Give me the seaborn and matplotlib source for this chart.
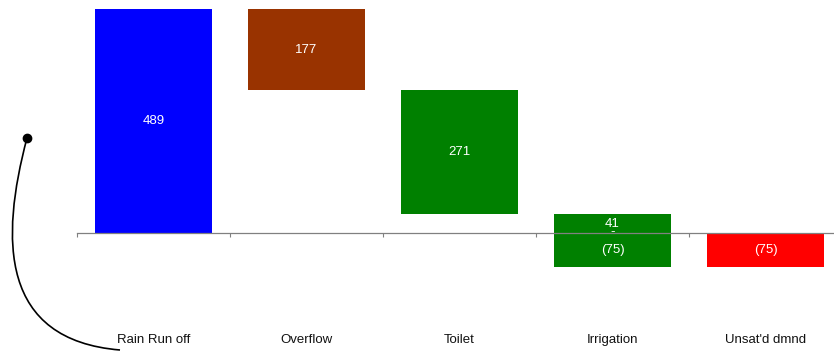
import matplotlib
matplotlib.use("Agg")
import matplotlib.pyplot as plt
import seaborn as sns
import numpy as np
from matplotlib.path import Path
from matplotlib.patches import PathPatch
from matplotlib.lines import Line2D

# ---- data ----
categories = ["Rain Run off", "Overflow", "Toilet", "Irrigation", "Unsat'd dmnd"]
bar_low = [0, 312, 41, -75, -75]
bar_high = [489, 489, 312, 41, 0]
bar_colors = ["#0000FF", "#993300", "#008000", "#008000", "#FF0000"]
value_labels = ["489", "177", "271", None, "(75)"]
irrigation_labels = ["41", "-", "(75)"]
irrigation_label_y = [20.5, 1, -37.5]

sns.set_theme(style="white")
plt.rcParams["font.family"] = ["Liberation Sans", "DejaVu Sans"]

W, H = 834, 351
fig = plt.figure(figsize=(W / 100, H / 100), dpi=100)
fig.patch.set_facecolor("white")

# axes: left at 77 px, each category 153 px wide; zero line at y=233 px, 489 at y=9 px
px_per_unit = (233 - 9) / 489.0
ymin = -(H - 233) / px_per_unit
ax_left = 77 / W
ax_width = (153 * 5) / W
ax = fig.add_axes([ax_left, 0, ax_width, (H - 9) / H])

heights = [h - l for l, h in zip(bar_low, bar_high)]
sns.barplot(x=categories, y=heights, bottom=bar_low, ax=ax, width=0.77,
            color="#0000FF", saturation=1, linewidth=0)
for p, c in zip(ax.patches, bar_colors):
    p.set_facecolor(c)
    p.set_edgecolor("none")

ax.set_xlim(-0.5, 4.5)
ax.set_ylim(ymin, 489)

# value labels
fs = 9.5
for i, lab in enumerate(value_labels):
    if lab is None:
        continue
    ax.text(i, (bar_low[i] + bar_high[i]) / 2, lab, ha="center", va="center",
            color="white", fontsize=fs)
for lab, y in zip(irrigation_labels, irrigation_label_y):
    ax.text(3, y, lab, ha="center", va="center", color="white", fontsize=fs,
            zorder=5)

# axis styling
for s in ["top", "right", "left"]:
    ax.spines[s].set_visible(False)
ax.spines["bottom"].set_position(("data", 0))
ax.spines["bottom"].set_color("#808080")
ax.spines["bottom"].set_linewidth(0.9)
ax.set_yticks([])
ax.set_xlabel("")
ax.set_ylabel("")
ax.set_xticks(range(5))
ax.set_xticklabels(categories, fontsize=fs, color="#111111")
ax.tick_params(axis="x", which="major", bottom=False, length=0, pad=73)
ax.set_xticks(np.arange(-0.5, 5.0, 1.0), minor=True)
ax.tick_params(axis="x", which="minor", bottom=True, length=3, width=0.8,
               color="#808080", direction="out")

# decorative curved connector on the left
def fp(x, y):
    return (x / W, 1 - y / H)

verts = [fp(27, 138), fp(0, 240), fp(0, 340), fp(120, 350)]
path = Path(verts, [Path.MOVETO, Path.CURVE4, Path.CURVE4, Path.CURVE4])
fig.add_artist(PathPatch(path, facecolor="none", edgecolor="black", lw=1.2,
                         transform=fig.transFigure))
fig.add_artist(Line2D([27 / W], [1 - 138 / H], marker="o", markersize=6,
                      color="black", transform=fig.transFigure))

fig.savefig("out.png", dpi=100, facecolor="white")
